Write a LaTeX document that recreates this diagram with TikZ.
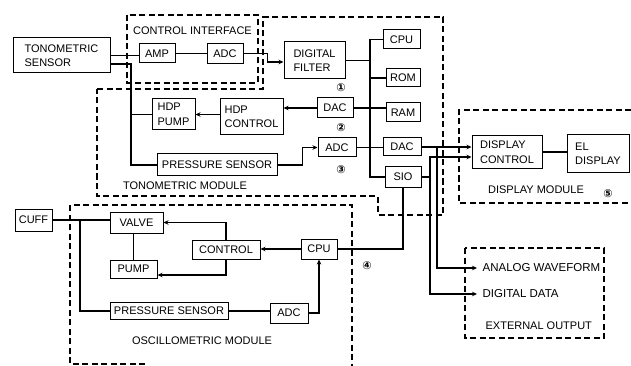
\documentclass[tikz,border=0pt]{standalone}
\usepackage{fontspec}
\setsansfont{Liberation Sans}
\newfontfamily\circfont{DejaVu Sans}
\usetikzlibrary{arrows.meta}

\tikzset{
  blk/.style={draw, line width=1pt, inner sep=1pt, align=left,
    font=\sffamily\fontsize{11}{14.5}\selectfont},
  lbl/.style={inner sep=0pt, font=\sffamily\fontsize{11}{14}\selectfont},
  extlbl/.style={anchor=west, inner xsep=5pt, inner ysep=0pt,
    font=\sffamily\fontsize{11.5}{14}\selectfont},
  dbox/.style={line width=1.1pt, dash pattern=on 6pt off 3.5pt},
  arr/.style={-{Stealth[length=5pt,width=4.5pt]}},
  num/.style={inner sep=0pt, font=\circfont\bfseries\fontsize{11}{11}\selectfont}
}

\begin{document}
\begin{tikzpicture}[x=1pt,y=-1pt,line width=1.2pt]
  \useasboundingbox (0,0) rectangle (631,366);
  % module frames
  \draw[dbox] (127,15) rectangle (258,83);
  \draw[dbox] (97,89) -- (263,89) -- (263,17) -- (443,17) -- (443,215)
    -- (378,215) -- (378,196) -- (97,196) -- cycle;
  \draw[dbox] (145,364) -- (70,364) -- (70,205) -- (352,205) -- (352,366);
  \draw[dbox] (631,110) -- (459,110) -- (459,203) -- (631,203);
  \draw[dbox] (465,248) rectangle (604,338);
  \node[lbl] (cilbl) at (192.5,31) {CONTROL INTERFACE};
  \node[lbl] (tmlbl) at (185,186) {TONOMETRIC MODULE};
  \node[lbl] (omlbl) at (202,341) {OSCILLOMETRIC MODULE};
  \node[lbl] (dmlbl) at (536,190) {DISPLAY MODULE};
  \node[lbl, anchor=west] (eolbl) at (485,326) {EXTERNAL OUTPUT};

  % tonometric part
  \node[blk, minimum width=97, minimum height=35] (tsens) at (61.5,55.5) {TONOMETRIC\\SENSOR};
  \node[blk, minimum width=36, minimum height=19] (amp) at (157,53.5) {AMP};
  \node[blk, minimum width=36, minimum height=20] (adcci) at (225,53.5) {ADC};
  \node[blk, minimum width=61, minimum height=37] (filt) at (314.5,60.5) {DIGITAL\\FILTER};
  \node[blk, minimum width=43, minimum height=31] (hdpp) at (173.5,114.5) {HDP\\PUMP};
  \node[blk, minimum width=63, minimum height=36] (hdpc) at (251.5,117) {HDP\\CONTROL};
  \node[blk, minimum width=120, minimum height=22] (psens) at (217,165) {PRESSURE SENSOR};
  \node[blk, minimum width=36, minimum height=20] (dac1) at (335,108) {DAC};
  \node[blk, minimum width=38, minimum height=19] (adc1) at (337,147.5) {ADC};
  \node[blk, minimum width=37, minimum height=19] (cpu1) at (401.5,39.5) {CPU};
  \node[blk, minimum width=34, minimum height=18] (rom) at (403,78) {ROM};
  \node[blk, minimum width=34, minimum height=19] (ram) at (403,112.5) {RAM};
  \node[blk, minimum width=38, minimum height=18] (dac2) at (402,147) {DAC};
  \node[blk, minimum width=36, minimum height=20] (sio) at (403,177) {SIO};
  \node[num] (n1) at (341,88) {①};
  \node[num] (n2) at (341,128) {②};
  \node[num] (n3) at (341,170) {③};

  % display and outputs
  \node[blk, minimum width=70, minimum height=33] (dispc) at (507,152) {DISPLAY\\CONTROL};
  \node[blk, minimum width=62, minimum height=38] (eld) at (598,154) {EL\\DISPLAY};
  \node[num] (n5) at (608,194) {⑤};
  \node[extlbl] (aw) at (477,268) {ANALOG WAVEFORM};
  \node[extlbl] (dd) at (477,294) {DIGITAL DATA};

  % oscillometric part
  \node[blk, minimum width=37, minimum height=22] (cuff) at (33.5,220) {CUFF};
  \node[blk, minimum width=53, minimum height=21] (valve) at (136.5,222.5) {VALVE};
  \node[blk, minimum width=47, minimum height=18] (pump) at (133.5,269) {PUMP};
  \node[blk, minimum width=68, minimum height=19] (ctrl) at (226,249.5) {CONTROL};
  \node[blk, minimum width=36, minimum height=20] (cpu2) at (319,249) {CPU};
  \node[blk, minimum width=118, minimum height=17] (psens2) at (169,311) {PRESSURE SENSOR};
  \node[blk, minimum width=38, minimum height=20] (adc2) at (289,313) {ADC};
  \node[num] (n4) at (367,266) {④};

  % tonometric connections
  \coordinate (tbus) at (131,64);
  \draw (tsens.east) -- (tsens.east -| amp.west);
  \draw (tsens.east |- tbus) -- (tbus) |- (psens.west);
  \draw (tbus |- hdpp.west) -- (hdpp.west);
  \draw (amp.east) -- (amp.east -| adcci.west);
  \draw[arr] (adcci.east) -- ++(24,0) |- ([yshift=-1.5pt]filt.west);
  \coordinate (bus) at (370,0);
  \draw (cpu1.west) -| (bus |- sio.west) -- (sio.west);
  \draw (filt.east) -- (filt.east -| bus);
  \draw (rom.west) -- (rom.west -| bus);
  \draw (dac1.east) -- (dac1.east -| ram.west);
  \draw (adc1.east) -- (adc1.east -| dac2.west);
  \draw[arr] (dac1.west) -- (dac1.west -| hdpc.east);
  \draw[arr] (hdpc.west |- hdpp.east) -- (hdpp.east);
  \draw[arr] (psens.east) -- ++(25,0) |- (adc1.west);

  % display connections
  \coordinate (jA) at (437,0);
  \coordinate (jD) at (430,157);
  \draw[arr] (dac2.east) -- (dac2.east -| dispc.west);
  \draw[arr] (dac2.east -| jA) |- (aw.west);
  \draw[arr] (sio.east) -| (jD) -- (jD -| dispc.west);
  \draw[arr] (sio.east -| jD) |- (dd.west);
  \draw (dispc.east) -- (dispc.east -| eld.west);

  % oscillometric connections
  \coordinate (ob) at (80,0);
  \draw (cuff.east) -- (cuff.east -| valve.west);
  \draw (cuff.east -| ob) |- (psens2.west);
  \draw (valve.south -| pump.north) -- (pump.north);
  \draw[arr] (ctrl.north) |- (valve.east);
  \draw[arr] (ctrl.south) |- ([yshift=-6pt]pump.east);
  \draw[arr] (cpu2.west) -- (cpu2.west -| ctrl.east);
  \draw (sio.south) |- (cpu2.east);
  \draw (psens2.east) -- (psens2.east -| adc2.west);
  \draw[arr] (adc2.east) -| (cpu2.south);
\end{tikzpicture}
\end{document}
